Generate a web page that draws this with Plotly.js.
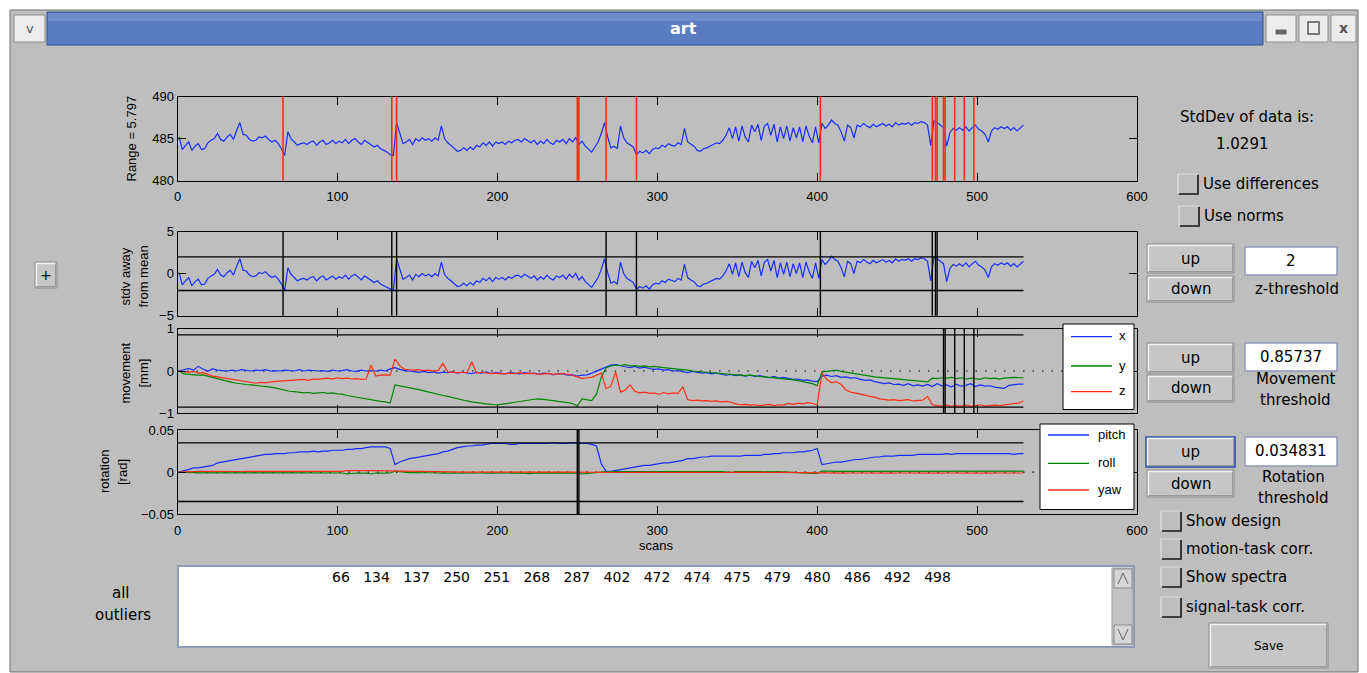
<!DOCTYPE html>
<html><head><meta charset="utf-8">
<script src="https://cdn.plot.ly/plotly-3.0.1.min.js"></script>
<style>html,body{margin:0;padding:0;background:#fff;overflow:hidden}</style>
</head><body><div id="chart" style="width:1367px;height:673px"></div>
<script>
// ---------------- DATA ----------------
const SIGNAL_FIRST_SCAN = 1, SIGNAL_SCAN_STEP = 2;   // global signal sampled every 2nd scan
const GLOBAL_SIGNAL = [
 485.2,483.7,484.2,484.6,483.6,484.1,484.4,483.7,483.8,484.5,
 484.8,485.0,485.6,484.9,484.7,485.2,485.5,484.9,486.0,486.9,
 485.5,485.4,484.9,484.7,484.8,485.2,485.1,485.3,484.9,484.6,
 484.8,484.4,483.8,483.0,485.8,485.0,484.6,484.2,484.4,484.5,
 484.3,484.6,484.7,484.2,484.6,484.8,484.3,484.5,484.8,484.4,
 484.7,484.5,484.9,484.4,484.8,485.0,484.6,484.3,484.8,484.5,
 484.3,484.0,484.2,483.8,483.6,483.4,483.1,483.0,486.9,485.5,
 484.4,484.6,484.9,484.3,485.0,484.7,485.1,484.8,485.0,484.7,
 485.1,484.8,486.5,485.0,484.5,484.2,483.8,483.5,483.6,483.9,
 483.6,484.0,483.7,484.2,484.0,484.5,484.2,484.6,484.1,484.6,
 484.4,484.6,484.3,484.7,484.5,484.8,484.9,484.6,485.0,484.7,
 484.5,484.8,484.3,484.7,484.4,484.9,484.5,484.3,484.8,484.6,
 484.9,484.4,485.0,484.6,485.1,484.3,484.7,484.1,483.8,483.4,
 484.0,484.6,485.6,486.9,485.2,483.9,484.1,483.8,486.5,485.1,
 484.5,484.2,484.0,483.1,483.5,483.3,483.6,483.2,483.7,483.9,
 483.8,484.2,484.0,484.4,484.2,484.1,484.5,484.3,486.2,484.6,
 484.3,484.1,483.6,483.5,483.8,483.9,484.1,484.3,484.5,484.4,
 484.8,485.4,486.3,485.0,486.4,484.7,486.5,485.2,484.6,486.6,
 485.8,486.7,484.8,486.5,486.8,485.4,486.7,484.6,486.4,485.0,
 486.5,484.7,486.3,485.1,486.4,484.6,486.5,485.3,484.5,486.4,
 484.5,486.8,486.2,486.6,487.2,486.8,486.6,485.8,484.7,486.6,
 486.3,485.1,486.6,486.4,486.8,486.5,486.3,486.7,486.4,486.6,
 486.8,486.5,486.7,486.4,486.9,486.6,486.8,486.7,486.9,486.6,
 486.9,486.8,487.0,486.9,486.6,484.2,487.1,486.9,486.6,486.3,
 484.1,485.7,486.2,486.0,486.3,486.0,486.4,485.9,486.3,486.6,
 486.1,485.9,485.5,484.6,485.9,486.3,486.1,486.4,486.2,486.4,
 486.0,486.3,485.9,486.2,486.6];
const STD_DEV = 1.0291;
const RANGE_TEXT = 'Range = 5.797';

const MOTION_FIRST_SCAN = 1, MOTION_SCAN_STEP = 3;   // motion parameters sampled every 3rd scan
const MOVE_X = [
 0.0,0.03,0.06,0.02,0.11,0.04,0.0,0.05,0.02,0.01,
 0.0,0.02,0.0,0.03,0.01,0.0,0.02,0.01,0.03,0.0,
 0.01,0.0,0.02,0.01,0.0,0.03,0.0,0.02,0.01,0.0,
 0.01,-0.01,0.02,0.0,0.01,0.03,0.0,-0.01,0.02,0.0,
 0.01,0.0,0.02,0.0,0.05,0.08,0.04,0.01,0.0,-0.02,
 -0.03,-0.01,-0.04,-0.02,-0.05,-0.03,-0.04,-0.02,-0.05,-0.03,
 -0.04,-0.06,-0.03,-0.05,-0.02,-0.06,-0.04,-0.05,-0.07,-0.04,
 -0.05,-0.07,-0.04,-0.06,-0.05,-0.08,-0.05,-0.06,-0.09,-0.06,
 -0.07,-0.10,-0.09,-0.12,-0.10,-0.09,-0.05,0.0,0.05,0.10,
 0.14,0.15,0.12,0.10,0.08,0.11,0.07,0.09,0.06,0.04,
 0.05,0.02,0.03,0.0,0.01,-0.02,-0.04,-0.01,-0.03,-0.05,
 -0.04,-0.07,-0.05,-0.08,-0.10,-0.08,-0.11,-0.09,-0.12,-0.10,
 -0.13,-0.11,-0.14,-0.16,-0.13,-0.17,-0.15,-0.18,-0.20,-0.19,
 -0.22,-0.21,-0.24,-0.25,-0.12,-0.10,-0.13,-0.11,-0.15,-0.14,
 -0.17,-0.16,-0.20,-0.22,-0.21,-0.25,-0.27,-0.30,-0.28,-0.32,
 -0.31,-0.34,-0.30,-0.35,-0.33,-0.36,-0.32,-0.37,-0.30,-0.35,
 -0.33,-0.38,-0.31,-0.36,-0.34,-0.30,-0.37,-0.33,-0.36,-0.35,
 -0.38,-0.40,-0.41,-0.34,-0.32,-0.31,-0.31];
const MOVE_Y = [
 0.0,-0.07,-0.08,-0.09,-0.10,-0.09,-0.12,-0.16,-0.18,-0.21,
 -0.24,-0.27,-0.29,-0.31,-0.32,-0.33,-0.34,-0.36,-0.37,-0.38,
 -0.40,-0.43,-0.46,-0.48,-0.49,-0.50,-0.52,-0.51,-0.53,-0.52,
 -0.51,-0.53,-0.52,-0.54,-0.55,-0.58,-0.60,-0.62,-0.64,-0.66,
 -0.69,-0.70,-0.72,-0.73,-0.76,-0.33,-0.35,-0.37,-0.39,-0.42,
 -0.44,-0.47,-0.50,-0.53,-0.55,-0.58,-0.60,-0.63,-0.66,-0.68,
 -0.71,-0.73,-0.75,-0.77,-0.78,-0.79,-0.80,-0.79,-0.78,-0.76,
 -0.74,-0.72,-0.70,-0.68,-0.67,-0.66,-0.67,-0.69,-0.70,-0.72,
 -0.73,-0.75,-0.77,-0.83,-0.66,-0.68,-0.70,-0.55,-0.15,0.08,
 0.12,0.14,0.13,0.15,0.12,0.13,0.11,0.12,0.10,0.11,
 0.09,0.08,0.07,0.06,0.04,0.03,0.02,0.0,-0.01,-0.02,
 -0.03,-0.04,-0.05,-0.06,-0.07,-0.08,-0.09,-0.10,-0.11,-0.10,
 -0.12,-0.13,-0.14,-0.15,-0.16,-0.17,-0.19,-0.20,-0.21,-0.23,
 -0.25,-0.28,-0.30,-0.35,-0.02,-0.01,0.0,0.02,-0.01,-0.03,
 -0.05,-0.07,-0.09,-0.10,-0.12,-0.14,-0.15,-0.16,-0.17,-0.18,
 -0.19,-0.21,-0.22,-0.23,-0.24,-0.25,-0.26,-0.17,-0.18,-0.16,
 -0.17,-0.15,-0.18,-0.16,-0.19,-0.17,-0.18,-0.20,-0.16,-0.18,
 -0.17,-0.19,-0.17,-0.16,-0.15,-0.16,-0.16];
const MOVE_Z = [
 0.0,-0.02,-0.03,-0.01,-0.05,-0.04,-0.08,-0.12,-0.14,-0.16,
 -0.18,-0.20,-0.22,-0.24,-0.25,-0.27,-0.29,-0.27,-0.28,-0.26,
 -0.25,-0.24,-0.23,-0.22,-0.22,-0.21,-0.20,-0.22,-0.19,-0.20,
 -0.18,-0.17,-0.19,-0.16,-0.18,-0.17,-0.19,-0.18,-0.20,-0.19,
 0.14,-0.12,-0.10,-0.09,-0.10,0.28,0.12,0.04,0.03,0.02,
 0.03,0.01,0.02,0.0,0.01,0.18,-0.02,-0.03,-0.04,-0.03,
 -0.04,0.22,-0.05,-0.03,-0.04,-0.06,-0.05,-0.07,-0.06,-0.05,
 -0.06,-0.04,-0.07,-0.05,-0.06,-0.08,-0.07,-0.06,-0.08,-0.07,
 -0.06,-0.08,-0.10,-0.14,-0.18,-0.16,-0.15,-0.10,-0.05,-0.42,
 -0.36,-0.02,-0.50,-0.45,-0.33,-0.48,-0.52,-0.50,-0.53,-0.52,
 -0.55,-0.51,-0.54,-0.52,-0.53,-0.37,-0.68,-0.70,-0.69,-0.71,
 -0.70,-0.72,-0.71,-0.73,-0.72,-0.74,-0.78,-0.80,-0.79,-0.81,
 -0.80,-0.82,-0.81,-0.79,-0.82,-0.80,-0.81,-0.77,-0.79,-0.76,
 -0.78,-0.75,-0.77,-0.80,-0.05,-0.20,-0.28,-0.25,-0.32,-0.45,
 -0.50,-0.52,-0.55,-0.57,-0.60,-0.62,-0.66,-0.68,-0.69,-0.68,
 -0.70,-0.69,-0.68,-0.71,-0.70,-0.69,-0.60,-0.80,-0.82,-0.83,
 -0.81,-0.84,-0.82,-0.83,-0.81,-0.84,-0.82,-0.80,-0.83,-0.82,
 -0.81,-0.82,-0.80,-0.78,-0.77,-0.76,-0.71];
const ROT_PITCH = [
 0.0,0.002,0.003,0.005,0.005,0.006,0.007,0.008,0.011,0.012,
 0.013,0.014,0.015,0.016,0.017,0.018,0.019,0.020,0.021,0.021,
 0.022,0.022,0.022,0.023,0.023,0.024,0.024,0.024,0.025,0.024,
 0.025,0.025,0.026,0.026,0.026,0.027,0.027,0.028,0.028,0.029,
 0.030,0.030,0.030,0.030,0.028,0.009,0.012,0.014,0.016,0.017,
 0.018,0.019,0.020,0.021,0.022,0.024,0.025,0.027,0.029,0.030,
 0.031,0.031,0.032,0.032,0.033,0.034,0.034,0.034,0.034,0.033,
 0.033,0.034,0.034,0.034,0.034,0.034,0.034,0.034,0.035,0.034,
 0.034,0.034,0.035,0.034,0.034,0.034,0.033,0.031,0.010,0.001,
 0.001,0.002,0.003,0.004,0.005,0.006,0.007,0.008,0.008,0.009,
 0.010,0.011,0.011,0.012,0.013,0.014,0.016,0.016,0.017,0.018,
 0.018,0.019,0.019,0.019,0.019,0.019,0.019,0.019,0.020,0.020,
 0.020,0.020,0.021,0.021,0.022,0.022,0.023,0.023,0.023,0.024,
 0.024,0.025,0.026,0.028,0.009,0.010,0.011,0.012,0.012,0.013,
 0.014,0.015,0.015,0.016,0.017,0.018,0.018,0.019,0.019,0.019,
 0.020,0.020,0.020,0.020,0.021,0.021,0.021,0.021,0.021,0.021,
 0.022,0.021,0.022,0.022,0.022,0.022,0.022,0.022,0.022,0.022,
 0.022,0.022,0.022,0.022,0.021,0.022,0.022];
const ROT_ROLL = [
 0,-0.0005,-0.0008,-0.0006,-0.0008,-0.0007,-0.0008,-0.0007,-0.0008,-0.0008,
 -0.0008,-0.0007,-0.0008,-0.0008,-0.0009,-0.0008,-0.0008,-0.0009,-0.0008,-0.0008,
 -0.0009,-0.0008,-0.0009,-0.0008,-0.0009,-0.0009,-0.0008,-0.0009,-0.0008,-0.0009,
 -0.0009,-0.0008,-0.0009,-0.0009,-0.0010,-0.0020,-0.0012,-0.0010,-0.0011,-0.0010,
 -0.0022,-0.0010,-0.0011,-0.0010,-0.0010,0.0012,0.0006,-0.0004,-0.0005,-0.0004,
 -0.0006,-0.0012,-0.0010,-0.0011,-0.0010,-0.0011,-0.0010,-0.0010,-0.0011,-0.0010,
 -0.0010,-0.0011,-0.0010,-0.0010,-0.0011,-0.0010,-0.0011,-0.0010,-0.0010,-0.0011,
 -0.0010,-0.0011,-0.0010,-0.0018,-0.0011,-0.0010,-0.0011,-0.0010,-0.0011,-0.0010,
 -0.0010,-0.0011,-0.0010,-0.0011,-0.0022,-0.0015,-0.0016,-0.0008,0.0003,0.0006,
 0.0008,0.0010,0.0005,0.0008,0.0006,0.0009,0.0005,0.0008,0.0006,0.0009,
 0.0005,0.0008,0.0006,0.0009,0.0004,0.0008,0.0006,0.0009,0.0005,0.0008,
 0.0006,0.0009,0.0005,0.0008,0.0004,-0.0006,0.0006,0.0008,0.0005,0.0009,
 0.0006,0.0008,0.0004,0.0008,0.0005,0.0007,0.0004,0.0003,-0.0004,-0.0006,
 -0.0008,-0.0012,-0.0010,-0.0014,0.0012,0.0008,0.0011,0.0010,0.0010,0.0009,
 0.0009,0.0010,0.0009,0.0010,0.0009,0.0010,0.0009,0.0010,0.0009,0.0010,
 0.0009,0.0010,0.0009,0.0010,0.0009,0.0010,0.0009,0.0010,0.0009,0.0010,
 0.0012,0.0009,0.0016,0.0010,0.0015,0.0009,0.0016,0.0010,0.0014,0.0009,
 0.0015,0.0010,0.0016,0.0012,0.0015,0.0010,0.0012];
const ROT_YAW = [
 0,0.0005,0.0008,0.0007,0.0009,0.0008,0.0009,0.0008,0.0009,0.0008,
 0.0009,0.0008,0.0009,0.0008,0.0009,0.0009,0.0008,0.0009,0.0008,0.0009,
 0.0008,0.0009,0.0008,0.0009,0.0008,0.0009,0.0008,0.0009,0.0008,0.0009,
 0.0008,0.0009,0.0008,0.0009,0.0009,0.0018,0.0020,0.0017,0.0019,0.0018,
 0.0019,0.0018,0.0012,0.0009,0.0008,0.0008,0.0007,0.0008,0.0007,0.0006,
 0.0004,0.0001,0.0,0.0001,0.0,0.0001,0.0,0.0001,0.0,0.0001,
 0.0,0.0001,0.0,0.0001,0.0,0.0001,0.0,0.0001,0.0,0.0001,
 0.0,0.0001,0.0,0.0001,0.0,0.0001,0.0,0.0001,0.0,0.0001,
 0.0,0.0001,0.0,0.0001,0.0,0.0001,0.0,-0.0002,-0.0004,-0.0004,
 -0.0004,-0.0003,-0.0004,-0.0003,-0.0004,-0.0003,-0.0004,-0.0003,-0.0004,-0.0003,
 -0.0004,-0.0003,-0.0004,-0.0003,-0.0004,-0.0003,-0.0004,-0.0003,-0.0004,-0.0003,
 -0.0004,-0.0003,-0.0004,-0.0003,-0.0004,-0.0003,-0.0004,-0.0003,-0.0004,-0.0003,
 -0.0004,-0.0003,-0.0004,-0.0003,-0.0004,-0.0003,-0.0004,-0.0003,-0.0004,-0.0003,
 -0.0004,-0.0003,-0.0004,-0.0005,-0.0010,-0.0011,-0.0010,-0.0011,-0.0010,-0.0011,
 -0.0010,-0.0011,-0.0010,-0.0011,-0.0010,-0.0011,-0.0010,-0.0011,-0.0010,-0.0011,
 -0.0010,-0.0011,-0.0010,-0.0011,-0.0010,-0.0011,-0.0010,-0.0011,-0.0010,-0.0011,
 -0.0010,-0.0011,-0.0010,-0.0011,-0.0010,-0.0011,-0.0010,-0.0011,-0.0010,-0.0011,
 -0.0010,-0.0011,-0.0010,-0.0011,-0.0010,-0.0011,-0.0010];

const OUTLIERS_ALL = [66,134,137,250,251,268,287,402,472,474,475,479,480,486,492,498];
const OUTLIERS_Z = [66,134,137,268,287,402,472,474,475];
const OUTLIERS_MOVE = [479,480,486,492,498];
const OUTLIERS_ROT = [250,251];
const Z_THRESHOLD = 2, MOVE_THRESHOLD = 0.85737, ROT_THRESHOLD = 0.034831;
const X_TICKS = [0,100,200,300,400,500,600];
const Y1_TICKS = [480,485,490], Y2_TICKS = [-5,0,5], Y3_TICKS = [-1,0,1], Y4_TICKS = [-0.05,0,0.05];
const MOVE_NAMES = ['x','y','z'], ROT_NAMES = ['pitch','roll','yaw'];

// scan index grids (positions of the samples above)
const SIGNAL_SCANS = GLOBAL_SIGNAL.map((_, i) => SIGNAL_FIRST_SCAN + i * SIGNAL_SCAN_STEP);
const MOTION_SCANS = MOVE_X.map((_, i) => MOTION_FIRST_SCAN + i * MOTION_SCAN_STEP);
const MEAN_SIGNAL = GLOBAL_SIGNAL.reduce((a, b) => a + b, 0) / GLOBAL_SIGNAL.length;
const Z_SCORES = GLOBAL_SIGNAL.map(v => (v - MEAN_SIGNAL) / STD_DEV);
const LAST_SCAN = Math.max(SIGNAL_SCANS[SIGNAL_SCANS.length-1], MOTION_SCANS[MOTION_SCANS.length-1]);

// ---------------- STYLE / LAYOUT ----------------
const W = 1367, H = 673;
const PX = x => x / W, PY = y => 1 - y / H;
const BLUE = 'rgb(25,45,255)', GREEN = 'rgb(0,135,0)', RED = 'rgb(255,45,20)';
const BG = '#bebebe';
const TICK_FONT = 'Liberation Sans, Arial, sans-serif';
const GUI_FONT = 'DejaVu Sans, Verdana, sans-serif';
const GUI_SIZE = 15;
const LW = 1.2;
const PLOT_L = 177.5, PLOT_R = 1137;
const ROWS = [[96.5,180.7],[231.7,315.7],[328.8,413.2],[430,514.3]];

function xAx(i, labels) {
  return {domain:[PX(PLOT_L), PX(PLOT_R)], range:[0,600], anchor:'y'+(i>1?i:''),
    tickmode:'array', tickvals:X_TICKS, ticks:'inside', ticklen:8, tickwidth:1, tickcolor:'#000',
    showline:true, linecolor:'#000', linewidth:1, mirror:'ticks', showgrid:false, zeroline:false,
    showticklabels:labels, ticklabelstandoff:4, tickfont:{family:TICK_FONT,size:13,color:'#000'}, fixedrange:true};
}
function yAx(i, range, ticks) {
  const r = ROWS[i-1];
  return {domain:[PY(r[1]), PY(r[0])], range:range, anchor:'x'+(i>1?i:''),
    tickmode:'array', tickvals:ticks, ticks:'inside', ticklen:8, tickwidth:1, tickcolor:'#000',
    showline:true, linecolor:'#000', linewidth:1, mirror:'ticks', showgrid:false, zeroline:false,
    tickfont:{family:TICK_FONT,size:13,color:'#000'}, fixedrange:true};
}

const traces = [
  {x:SIGNAL_SCANS, y:GLOBAL_SIGNAL, xaxis:'x', yaxis:'y', mode:'lines', line:{color:BLUE,width:LW}, name:'global signal'},
  {x:SIGNAL_SCANS, y:Z_SCORES, xaxis:'x2', yaxis:'y2', mode:'lines', line:{color:BLUE,width:LW}, name:'z'},
  {x:MOTION_SCANS, y:MOVE_X, xaxis:'x3', yaxis:'y3', mode:'lines', line:{color:BLUE,width:LW}, name:MOVE_NAMES[0]},
  {x:MOTION_SCANS, y:MOVE_Y, xaxis:'x3', yaxis:'y3', mode:'lines', line:{color:GREEN,width:LW}, name:MOVE_NAMES[1]},
  {x:MOTION_SCANS, y:MOVE_Z, xaxis:'x3', yaxis:'y3', mode:'lines', line:{color:RED,width:LW}, name:MOVE_NAMES[2]},
  {x:MOTION_SCANS, y:ROT_PITCH, xaxis:'x4', yaxis:'y4', mode:'lines', line:{color:BLUE,width:LW}, name:ROT_NAMES[0]},
  {x:MOTION_SCANS, y:ROT_ROLL, xaxis:'x4', yaxis:'y4', mode:'lines', line:{color:GREEN,width:LW}, name:ROT_NAMES[1]},
  {x:MOTION_SCANS, y:ROT_YAW, xaxis:'x4', yaxis:'y4', mode:'lines', line:{color:RED,width:LW}, name:ROT_NAMES[2]}
];

const shapes = [], ann = [];
function prect(x0,y0,x1,y1,fill,line,lw,layer){ shapes.push({type:'rect',xref:'paper',yref:'paper',x0:PX(x0),x1:PX(x1),y0:PY(y1),y1:PY(y0),fillcolor:fill,line:{color:line||'rgba(0,0,0,0)',width:lw==null?1:lw},layer:layer||'above'}); }
function ppath(pts,color,lw,layer,fill){ const d = pts.map((p,i)=>(i?'L':'M')+PX(p[0])+','+PY(p[1])).join(' ') + (fill?' Z':''); shapes.push({type:'path',xref:'paper',yref:'paper',path:d,line:{color:color,width:lw},fillcolor:fill||'rgba(0,0,0,0)',layer:layer||'above'}); }
function txt(x,y,text,opt){ opt=opt||{}; ann.push({xref:'paper',yref:'paper',x:PX(x),y:PY(y),text:text,showarrow:false,xanchor:opt.xa||'center',yanchor:opt.ya||'middle',textangle:opt.angle||0,font:{family:opt.family||GUI_FONT,size:opt.size||GUI_SIZE,color:opt.color||'#000'}}); }

// window frame + title bar
prect(10,10,1358,672,BG,'#707070',1,'below');
prect(47,12,1263,45,'#5a7dc1','#33548f',1,'below');
prect(48,13,1262,21,'#6b8bca',null,0,'below');
[[14,15,45,42],[1266,15,1296,42],[1299,15,1328,42],[1331,15,1356,42]].forEach(b=>prect(b[0],b[1],b[2],b[3],'#ececec','#8d8d8d',1,'below'));
txt(683,29,'<b>art</b>',{size:16,color:'#ffffff'});
txt(29.5,28.5,'v',{size:13,color:'#555'});
prect(1276,30,1286,34,'#666','#666',1,'below');
prect(1308,22,1319,34,'rgba(0,0,0,0)','#555',1.5,'below');
txt(1343.5,28.5,'<b>x</b>',{size:14,color:'#555'});

// plot 1: red outlier lines
OUTLIERS_ALL.forEach(o=>shapes.push({type:'line',xref:'x',yref:'y domain',x0:o,x1:o,y0:0,y1:1,line:{color:RED,width:1.6}}));
// plot 2: thresholds + outliers
[Z_THRESHOLD,-Z_THRESHOLD].forEach(t=>shapes.push({type:'line',xref:'x2',yref:'y2',x0:0,x1:LAST_SCAN,y0:t,y1:t,line:{color:'#000',width:1.3}}));
OUTLIERS_Z.forEach(o=>shapes.push({type:'line',xref:'x2',yref:'y2 domain',x0:o,x1:o,y0:0,y1:1,line:{color:'#000',width:1.4}}));
// plot 3
shapes.push({type:'line',xref:'x3',yref:'y3',x0:0,x1:600,y0:0,y1:0,line:{color:'#000',width:1.2,dash:'1.5px,8px'},layer:'below'});
[MOVE_THRESHOLD,-MOVE_THRESHOLD].forEach(t=>shapes.push({type:'line',xref:'x3',yref:'y3',x0:0,x1:LAST_SCAN,y0:t,y1:t,line:{color:'#000',width:1.3}}));
OUTLIERS_MOVE.forEach(o=>shapes.push({type:'line',xref:'x3',yref:'y3 domain',x0:o,x1:o,y0:0,y1:1,line:{color:'#000',width:1.4}}));
// plot 4
shapes.push({type:'line',xref:'x4',yref:'y4',x0:0,x1:600,y0:0,y1:0,line:{color:'#000',width:1.2,dash:'1.5px,8px'},layer:'below'});
[ROT_THRESHOLD,-ROT_THRESHOLD].forEach(t=>shapes.push({type:'line',xref:'x4',yref:'y4',x0:0,x1:LAST_SCAN,y0:t,y1:t,line:{color:'#000',width:1.3}}));
OUTLIERS_ROT.forEach(o=>shapes.push({type:'line',xref:'x4',yref:'y4 domain',x0:o,x1:o,y0:0,y1:1,line:{color:'#000',width:1.4}}));

// legends
prect(1063,324,1134,409.5,'#ffffff','#000',1);
[[336.7,BLUE],[366,GREEN],[391.7,RED]].forEach((e,i)=>{ ppath([[1071,e[0]],[1112,e[0]]],e[1],1.3); txt(1122,e[0]-1,MOVE_NAMES[i],{family:TICK_FONT,size:13}); });
prect(1040,424,1134,509.5,'#ffffff','#000',1);
[[435,BLUE],[463.3,GREEN],[490,RED]].forEach((e,i)=>{ ppath([[1048,e[0]],[1089,e[0]]],e[1],1.3); txt(1096,e[0]-1,ROT_NAMES[i],{family:TICK_FONT,size:13,xa:'left'}); });

// axis labels
txt(131.5,139,RANGE_TEXT,{family:TICK_FONT,size:13,angle:-90});
txt(124.5,277,'stdv away',{family:TICK_FONT,size:13,angle:-90});
txt(142.5,277,'from mean',{family:TICK_FONT,size:13,angle:-90});
txt(124.5,373,'movement',{family:TICK_FONT,size:13,angle:-90});
txt(142.5,373,'[mm]',{family:TICK_FONT,size:13,angle:-90});
txt(105,472,'rotation',{family:TICK_FONT,size:13,angle:-90});
txt(123,472,'[rad]',{family:TICK_FONT,size:13,angle:-90});
txt(656,545,'scans',{family:TICK_FONT,size:13});

// GUI widgets
function button(x0,y0,x1,y1,label,focus,size){
  prect(x0,y0,x1,y1,'#c6c6c6',focus?'#2c4ea8':'#8c8c8c',focus?1.6:1);
  ppath([[x0+1.5,y1-1.5],[x0+1.5,y0+1.5],[x1-1.5,y0+1.5]],'#f2f2f2',1.4);
  ppath([[x0+1.5,y1-1.5],[x1-1.5,y1-1.5],[x1-1.5,y0+1.5]],'#9a9a9a',1);
  txt((x0+x1)/2,(y0+y1)/2,label,{size:size||GUI_SIZE});
}
function editbox(x0,y0,x1,y1,label){ prect(x0,y0,x1,y1,'#ffffff','#8f9bb6',1.5); txt((x0+x1)/2,(y0+y1)/2,label); }
function checkbox(x0,y0,label){
  prect(x0,y0,x0+20,y0+20,BG,'#9a9a9a',1);
  ppath([[x0,y0+20],[x0,y0],[x0+20,y0]],'#ececec',1.2);
  ppath([[x0+1,y0+20],[x0+20,y0+20],[x0+20,y0+1]],'#1a1a1a',1.6);
  txt(x0+23,y0+10,label,{xa:'left'});
}
button(35,262,57,288,'+',false,14);
txt(1246.5,117,'StdDev of data is:');
txt(1242,144,'1.0291');
checkbox(1178,174,'Use differences');
checkbox(1179,206,'Use norms');
button(1147,244,1234,273,'up'); button(1147,276,1234,302,'down');
editbox(1245,247,1337,275,'2'); txt(1296.5,289,'z-threshold');
button(1147,343,1234,373,'up'); button(1147,375,1234,402,'down');
editbox(1245,343,1337,371,'0.85737'); txt(1295.5,379,'Movement'); txt(1295.5,399.5,'threshold');
button(1146,437,1235,467,'up',true); button(1147,470,1234,497,'down');
editbox(1245,437,1337,466,'0.034831'); txt(1293,477,'Rotation'); txt(1293,497.5,'threshold');
checkbox(1161,511,'Show design');
checkbox(1161,539,'motion-task corr.');
checkbox(1161,567,'Show spectra');
checkbox(1161,597,'signal-task corr.');
button(1209,623,1328,668,'Save',false,12);

// outlier list box
prect(178,566,1134,647,'#ffffff','#8f9bb6',2);
prect(1112,568,1133,645,'#c4c4c4','#a0a0a0',1);
prect(1114,569,1132,588,'#d6d6d6','#8c8c8c',1);
prect(1114,625,1132,644,'#d6d6d6','#8c8c8c',1);
ppath([[1118,584],[1123,573],[1128,584]],'#666',1);
ppath([[1118,629],[1123,640],[1128,629]],'#666',1);
txt(641.5,577,OUTLIERS_ALL.join('\u00a0\u00a0\u00a0'),{size:14});
txt(121,593,'all');
txt(122.5,615,'outliers');

const layout = {
  width:W, height:H, autosize:false, margin:{l:0,r:0,t:0,b:0},
  paper_bgcolor:'#ffffff', plot_bgcolor:'#ffffff', showlegend:false,
  xaxis:xAx(1,true), xaxis2:xAx(2,false), xaxis3:xAx(3,false), xaxis4:xAx(4,true),
  yaxis:yAx(1,[480,490],Y1_TICKS), yaxis2:yAx(2,[-5,5],Y2_TICKS), yaxis3:yAx(3,[-1,1],Y3_TICKS), yaxis4:yAx(4,[-0.05,0.05],Y4_TICKS),
  shapes:shapes, annotations:ann
};
Plotly.newPlot('chart', traces, layout, {staticPlot:true, displayModeBar:false});
</script></body></html>
